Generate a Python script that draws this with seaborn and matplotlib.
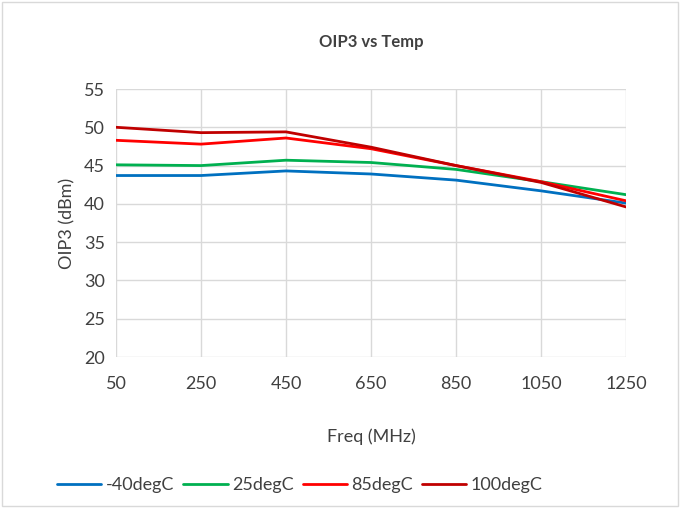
import pandas as pd
import matplotlib.pyplot as plt
import seaborn as sns

# data
freq = [50, 250, 450, 650, 850, 1050, 1250]
temps = ['-40degC', '25degC', '85degC', '100degC']
oip3_m40 = [43.7, 43.7, 44.3, 43.9, 43.1, 41.7, 40.1]
oip3_25 = [45.1, 45.0, 45.7, 45.4, 44.5, 42.9, 41.2]
oip3_85 = [48.3, 47.8, 48.6, 47.2, 45.0, 42.9, 40.4]
oip3_100 = [50.0, 49.3, 49.4, 47.4, 45.0, 42.8, 39.6]
colors = ['#0070C0', '#00B050', '#FF0000', '#C00000']

df = pd.DataFrame({
    'Freq': freq * 4,
    'OIP3': oip3_m40 + oip3_25 + oip3_85 + oip3_100,
    'Temp': [t for t in temps for _ in freq],
})

sns.set_theme(style="white")
plt.rcParams['font.family'] = ['Lato', 'DejaVu Sans']

fig = plt.figure(figsize=(6.8, 5.08), dpi=100)
ax = fig.add_axes([116 / 680, 1 - 357 / 508, 510 / 680, 268 / 508])

sns.lineplot(data=df, x='Freq', y='OIP3', hue='Temp', hue_order=temps,
             palette=colors, linewidth=2, ax=ax)

ax.set_xlim(50, 1250)
ax.set_ylim(20, 55)
ax.set_xticks(freq)
ax.set_yticks(range(20, 56, 5))
ax.grid(True, color='#d9d9d9', linewidth=1)
for s in ['top', 'right', 'left', 'bottom']:
    ax.spines[s].set_visible(False)
ax.tick_params(axis='both', labelsize=13, labelcolor='#404040', length=0)
ax.tick_params(axis='x', pad=14)
ax.tick_params(axis='y', pad=8)
ax.set_title('OIP3 vs Temp', fontsize=12, fontweight='bold', color='#404040', pad=30)
ax.set_xlabel('Freq (MHz)', fontsize=13, color='#404040', labelpad=26)
ax.set_ylabel('OIP3 (dBm)', fontsize=13, color='#404040', labelpad=6)

ax.get_legend().remove()
handles, labels = ax.get_legend_handles_labels()
fig.legend(handles, labels, loc='center', bbox_to_anchor=(300 / 680, 1 - 485 / 508),
           ncol=4, frameon=False, fontsize=13, labelcolor='#404040',
           handlelength=2.45, columnspacing=0.5, handletextpad=0.25)

# chart border
fig.patches.append(plt.Rectangle((0.003, 0.003), 0.994, 0.994, transform=fig.transFigure,
                                 fill=False, edgecolor='#d9d9d9', linewidth=1))

plt.savefig('out.png', dpi=100)
